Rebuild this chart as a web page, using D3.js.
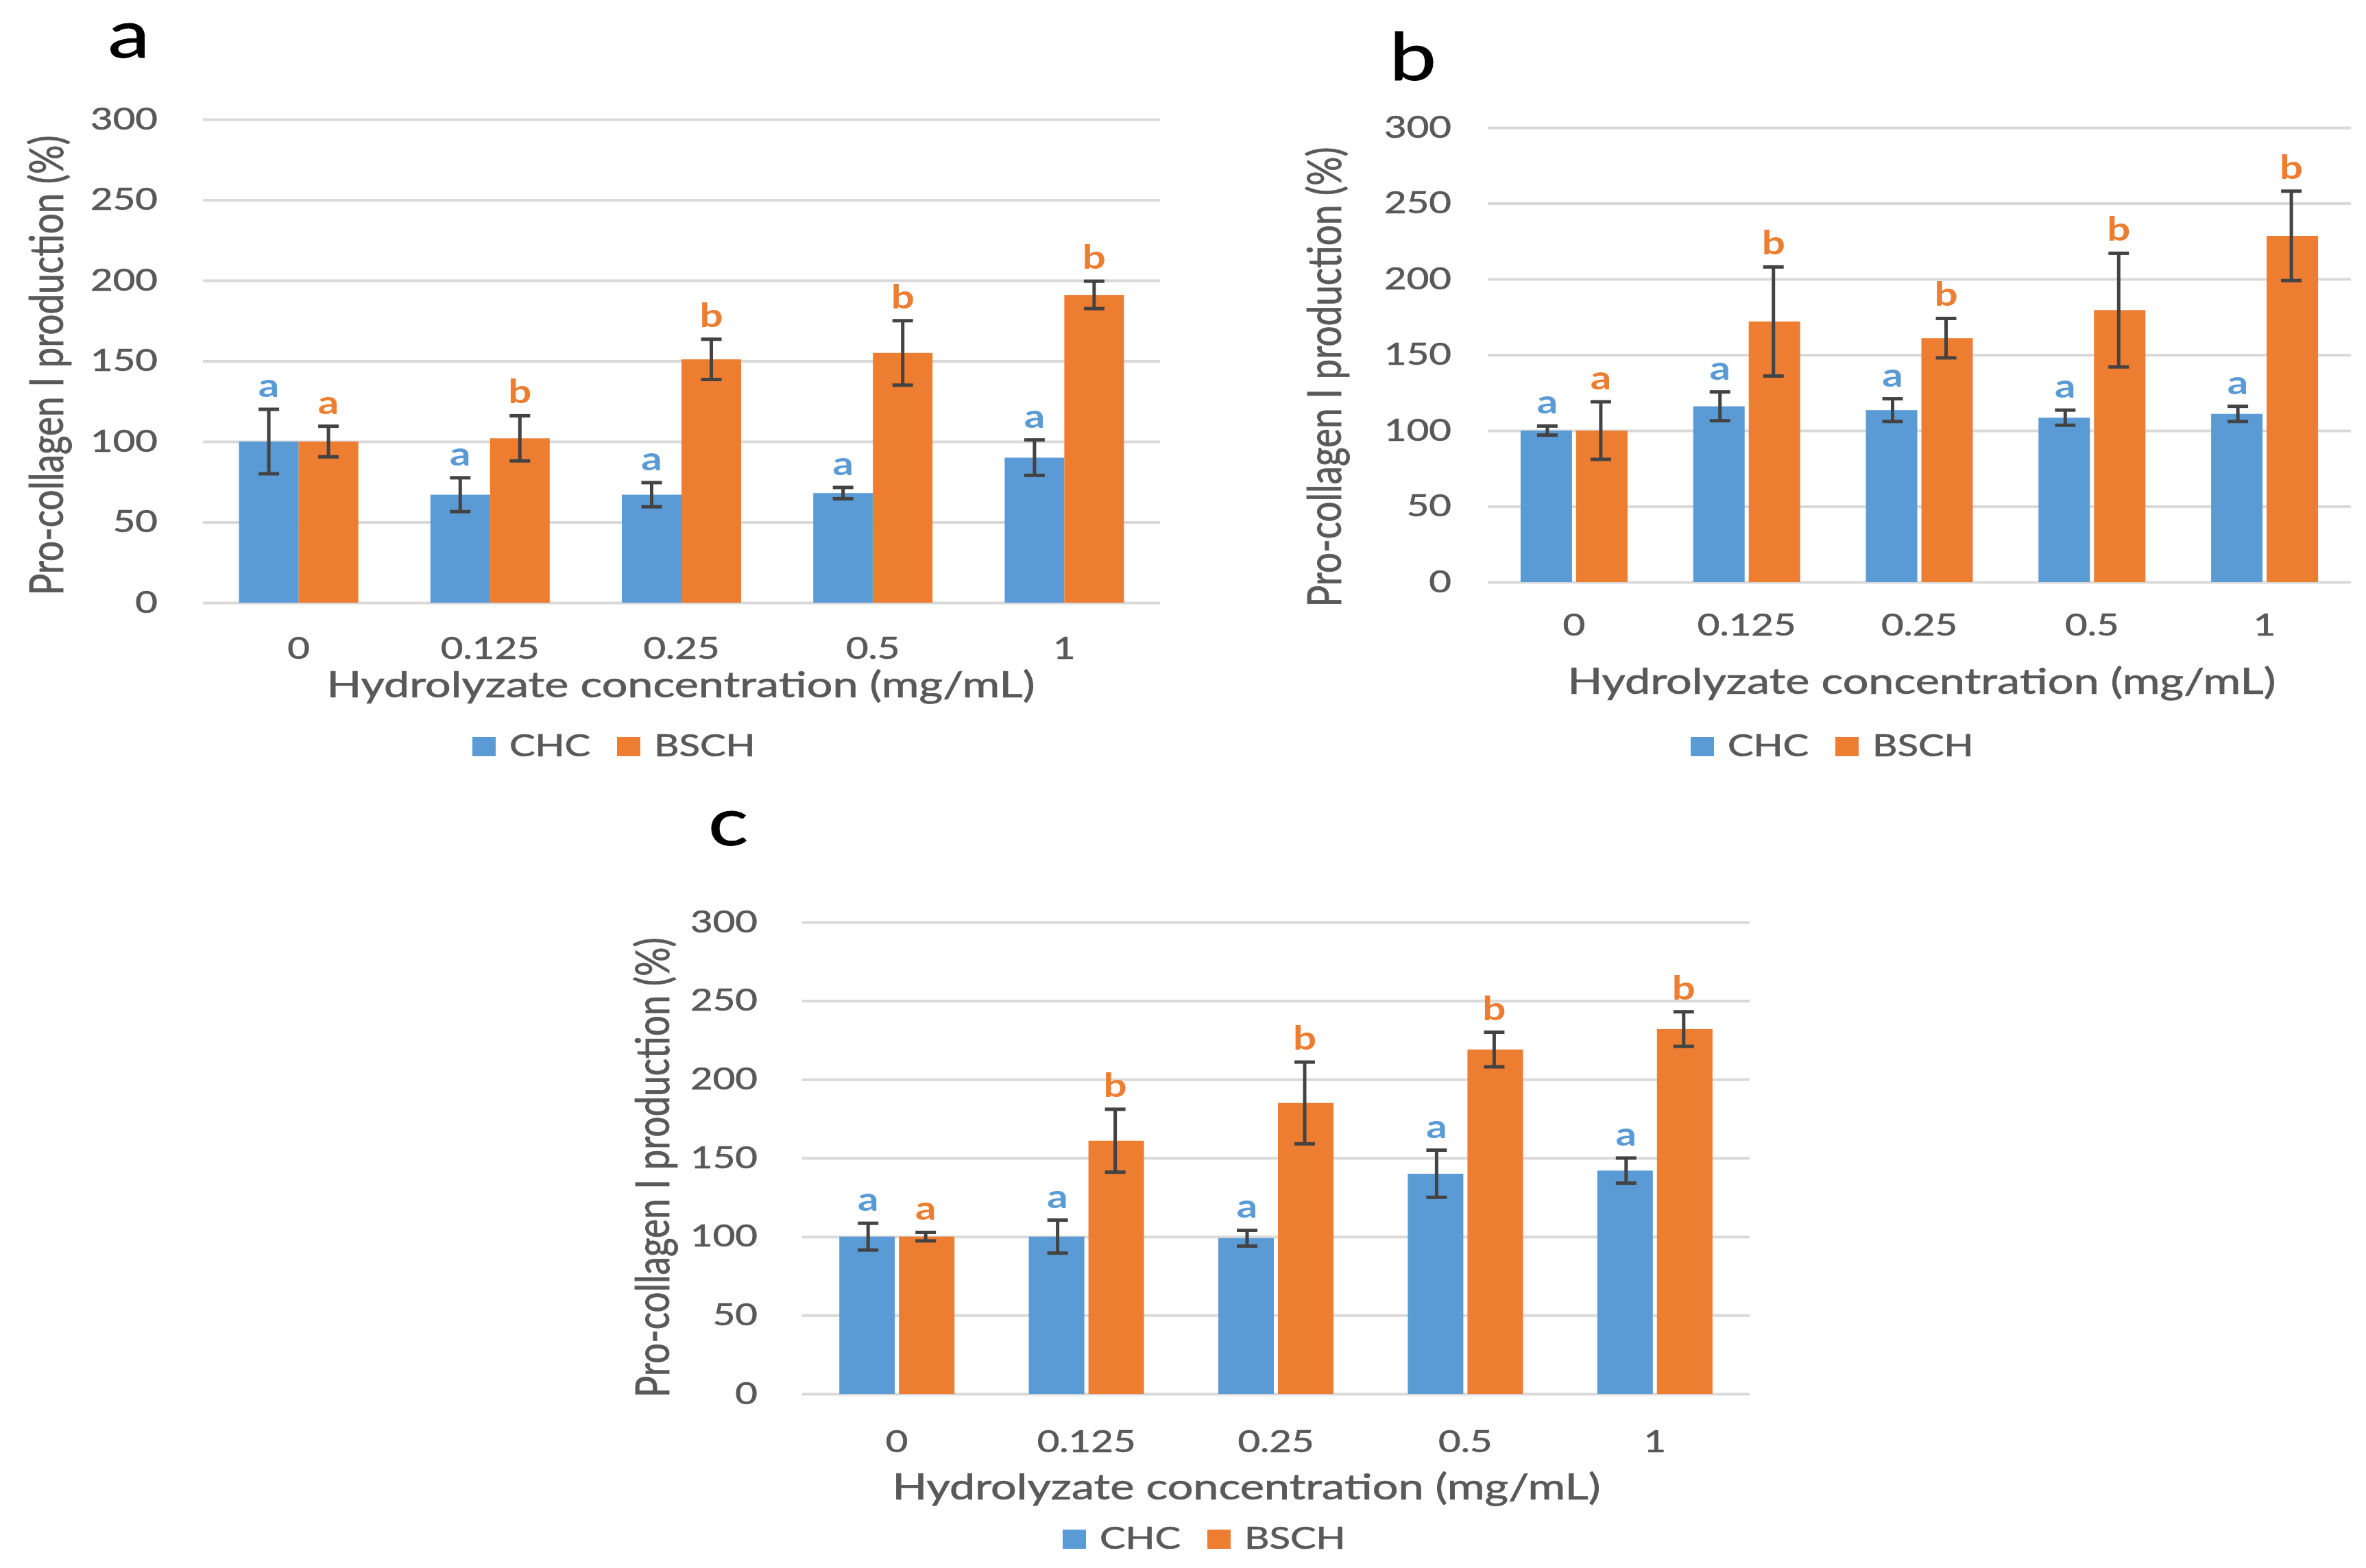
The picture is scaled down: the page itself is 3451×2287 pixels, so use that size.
<!DOCTYPE html>
<meta charset="utf-8">
<script src="https://d3js.org/d3.v7.min.js"></script>
<style>
body { margin: 0; background: #fff; }
text { font-family: Lato, "Open Sans", sans-serif; }
.gray { fill: #595959; stroke: #595959; stroke-width: 0.7px; }
</style>
<div id="chart"></div>
<script>

// categories and series
const categories = ["0", "0.125", "0.25", "0.5", "1"];
const seriesNames = ["CHC", "BSCH"];
const yTicks = [0, 50, 100, 150, 200, 250, 300];

// panel a
const chcA = [100, 67, 67, 68, 90];
const chcAErr = [20, 10.5, 7.5, 3.5, 11];
const bschA = [100, 102, 151, 155, 191];
const bschAErr = [9.5, 14, 12.5, 20, 8.5];

// panel b
const chcB = [100, 116, 113.5, 108.5, 111];
const chcBErr = [3, 9.5, 7.5, 5, 5];
const bschB = [100, 172, 161, 179.5, 228.5];
const bschBErr = [19, 36, 13, 37.5, 29.5];

// panel c
const chcC = [100, 100, 99, 140, 142];
const chcCErr = [8.5, 10.5, 5, 15, 8];
const bschC = [100, 161, 185, 219, 232];
const bschCErr = [2.7, 20, 26, 11, 11];

// significance letters
const chcLetters = ["a", "a", "a", "a", "a"];
const bschLetters = ["a", "b", "b", "b", "b"];

const colors = {CHC: "#5B9BD5", BSCH: "#ED7D31"};
const SX = 1.28; // the figure is stretched sideways

const svg = d3.select("#chart")
  .append("svg")
    .attr("width", 3451)
    .attr("height", 2287);

const panels = [
  {label: "a", chc: chcA, chcErr: chcAErr, bsch: bschA, bschErr: bschAErr,
   left: 296, right: 1692, top: 174, bottom: 879, barW: 87, gap: 0,
   tickRight: 230, yTitleX: 92, yTitleY: 533, labelX: 188, labelY: 84,
   xTickY: 961, xTitleX: 993, xTitleY: 1017, legendX: 689, legendY: 1103},
  {label: "b", chc: chcB, chcErr: chcBErr, bsch: bschB, bschErr: bschBErr,
   left: 2170, right: 3429, top: 186, bottom: 849, barW: 78, gap: 3,
   tickRight: 2117, yTitleX: 1956, yTitleY: 550, labelX: 2061, labelY: 117,
   xTickY: 927, xTitleX: 2803, xTitleY: 1012, legendX: 2466, legendY: 1103},
  {label: "c", chc: chcC, chcErr: chcCErr, bsch: bschC, bschErr: bschCErr,
   left: 1170, right: 2552, top: 1345, bottom: 2033, barW: 84, gap: 3,
   tickRight: 1105, yTitleX: 976, yTitleY: 1703, labelX: 1062, labelY: 1233,
   xTickY: 2118, xTitleX: 1818, xTitleY: 2187, legendX: 1550, legendY: 2259}
];

function stretched(sel, x, y, rot) {
  sel.attr("transform", `translate(${x},${y}) scale(${SX},1)` + (rot ? " rotate(-90)" : ""));
}

function drawPanel(p) {
  const g = svg.append("g");
  const w = p.right - p.left;

  const y = d3.scaleLinear().domain([0, 300]).range([p.bottom, p.top]);
  const step = w / categories.length;
  const pad = 1 - 2 * p.barW / step;
  const x0 = d3.scaleBand().domain(categories).range([p.left, p.right])
    .paddingInner(pad).paddingOuter(pad / 2);
  const x1 = d3.scaleBand().domain(seriesNames).range([0, x0.bandwidth()]);

  // gridlines + y ticks
  const yAxis = g.append("g")
    .attr("transform", `translate(${p.left},0)`)
    .call(d3.axisLeft(y).tickValues(yTicks).tickSize(-w).tickPadding((p.left - p.tickRight) / SX));
  yAxis.select(".domain").remove();
  yAxis.selectAll("line").attr("stroke", "#d9d9d9").attr("stroke-width", 4);
  yAxis.selectAll("text")
    .attr("class", "gray").attr("font-size", 44)
    .attr("transform", `scale(${SX},1)`);

  // x ticks
  const xAxis = g.append("g")
    .attr("transform", `translate(0,${p.bottom})`)
    .call(d3.axisBottom(x0).tickSize(0));
  xAxis.select(".domain").remove();
  xAxis.selectAll("text")
    .attr("class", "gray").attr("font-size", 44)
    .attr("y", p.xTickY - p.bottom).attr("dy", 0)
    .attr("transform", `scale(${SX},1)`);

  const rows = [];
  categories.forEach((c, i) => {
    rows.push({cat: c, s: "CHC", v: p.chc[i], e: p.chcErr[i], l: chcLetters[i]});
    rows.push({cat: c, s: "BSCH", v: p.bsch[i], e: p.bschErr[i], l: bschLetters[i]});
  });
  const cx = d => x0(d.cat) + x1(d.s) + x1.bandwidth() / 2;

  g.selectAll(".bar").data(rows).join("rect")
    .attr("class", "bar")
    .attr("x", d => x0(d.cat) + x1(d.s) + (d.s === "BSCH" ? p.gap : 0))
    .attr("width", x1.bandwidth() - p.gap)
    .attr("y", d => y(d.v))
    .attr("height", d => y(0) - y(d.v))
    .attr("fill", d => colors[d.s]);

  // error bars
  const eb = g.selectAll(".err").data(rows).join("g").attr("class", "err")
    .attr("stroke", "#434343").attr("stroke-width", 5);
  eb.append("line")
    .attr("x1", cx).attr("x2", cx)
    .attr("y1", d => y(d.v + d.e)).attr("y2", d => y(d.v - d.e));
  eb.append("line")
    .attr("x1", d => cx(d) - 15).attr("x2", d => cx(d) + 15)
    .attr("y1", d => y(d.v + d.e)).attr("y2", d => y(d.v + d.e));
  eb.append("line")
    .attr("x1", d => cx(d) - 15).attr("x2", d => cx(d) + 15)
    .attr("y1", d => y(d.v - d.e)).attr("y2", d => y(d.v - d.e));

  // significance letters
  g.selectAll(".sig").data(rows).join("text")
    .attr("class", "sig")
    .attr("text-anchor", "middle")
    .attr("font-size", 47)
    .attr("font-weight", "bold")
    .attr("fill", d => colors[d.s])
    .text(d => d.l)
    .each(function(d) { stretched(d3.select(this), cx(d), y(d.v + d.e) - 18); });

  // panel letter
  g.append("text")
    .attr("text-anchor", "middle").attr("font-size", 96).attr("fill", "#000")
    .attr("stroke", "#000").attr("stroke-width", 0.8)
    .text(p.label)
    .call(stretched, p.labelX, p.labelY);

  // axis titles
  g.append("text")
    .attr("class", "gray")
    .attr("text-anchor", "middle").attr("font-size", 53)
    .text("Pro-collagen I production (%)")
    .call(stretched, p.yTitleX, p.yTitleY, true);

  g.append("text")
    .attr("class", "gray")
    .attr("text-anchor", "middle").attr("font-size", 52)
    .text("Hydrolyzate concentration (mg/mL)")
    .call(stretched, p.xTitleX, p.xTitleY);

  // legend
  const offs = [0, 211];
  seriesNames.forEach((s, i) => {
    g.append("rect")
      .attr("x", p.legendX + offs[i]).attr("y", p.legendY - 28)
      .attr("width", 34).attr("height", 28)
      .attr("fill", colors[s]);
    g.append("text")
      .attr("class", "gray")
      .attr("font-size", 44)
      .text(s)
      .call(stretched, p.legendX + offs[i] + 54, p.legendY);
  });
}

panels.forEach(drawPanel);

</script>
